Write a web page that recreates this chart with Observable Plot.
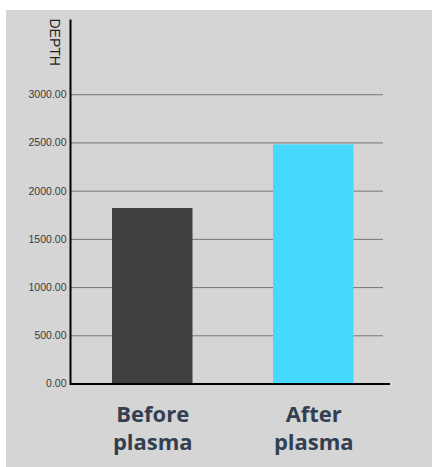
<!DOCTYPE html>
<html>
<head>
<meta charset="utf-8">
<script src="https://cdn.jsdelivr.net/npm/d3@7"></script>
<script src="https://cdn.jsdelivr.net/npm/@observablehq/plot@0.6"></script>
<style>
  html, body { margin: 0; padding: 0; background: #ffffff; }
  #chart { padding-left: 6px; padding-top: 10px; }
  #chart svg { display: block; }
</style>
</head>
<body>
<div id="chart"></div>
<script>
const categories = ["Before plasma", "After plasma"];
const depth = [1820, 2480];
const barColors = ["#404040", "#46d8fd"];
const yTicks = [0, 500, 1000, 1500, 2000, 2500, 3000];
const axisLabel = "DEPTH";

const data = categories.map((c, i) => ({cat: c, depth: depth[i]}));

const chart = Plot.plot({
  width: 426,
  height: 457,
  marginLeft: 64,
  marginRight: 42,
  marginTop: 10,
  marginBottom: 83.5,
  style: {background: "#d5d5d5", fontFamily: "'Liberation Sans', Arial, sans-serif", overflow: "visible"},
  x: {domain: categories, range: [25.5, 428], padding: 0.5, round: false, axis: null},
  y: {domain: [0, 3770], axis: null},
  color: {domain: categories, range: barColors},
  marks: [
    Plot.ruleY(yTicks.slice(1), {stroke: "#777777", strokeWidth: 1, insetRight: 7}),
    Plot.barY(data, {x: "cat", y: "depth", fill: "cat"}),
    Plot.ruleY([0], {stroke: "#000000", strokeWidth: 2}),
    Plot.frame({anchor: "left", stroke: "#000000", strokeWidth: 2}),
    Plot.axisY({ticks: yTicks, tickFormat: d3.format(".2f"), tickSize: 0, tickPadding: 4, fontSize: 10.5, fill: "#3a3a3a", label: null}),
    Plot.text([axisLabel], {frameAnchor: "top-left", rotate: 90, textAnchor: "start", dx: -11, dy: -2, fontSize: 14, fill: "#222222"}),
    Plot.text(categories, {x: d => d, text: d => d.replace(" ", "\n"), frameAnchor: "bottom", lineAnchor: "top", dy: 18, lineHeight: 1.27, fontSize: 22, fontWeight: "bold", fontFamily: "'Open Sans', sans-serif", fill: "#333f50"})
  ]
});
document.getElementById("chart").appendChild(chart);
</script>
</body>
</html>
